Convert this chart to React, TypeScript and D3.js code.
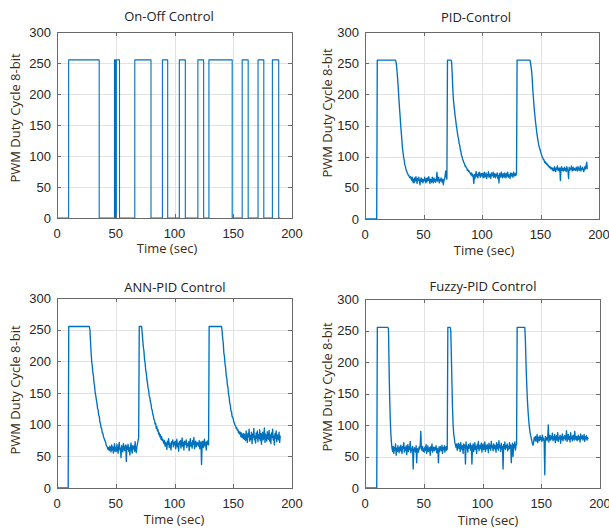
import React from "react";
import * as d3 from "d3";

// ---------- DATA ----------
const xTicks = [0, 50, 100, 150, 200];
const yTicks = [0, 50, 100, 150, 200, 250, 300];
const titles = ["On-Off Control", "PID-Control", "ANN-PID Control", "Fuzzy-PID Control"];
const xLabel = "Time (sec)";
const yLabel = "PWM Duty Cycle 8-bit";

// On-Off: switching instants (sec) and levels held after them
const onOffT = [0, 9.9, 35.9, 48.9, 49.6, 50.5, 53.2, 66.2, 80, 89.7, 94.2, 104.1, 109.2, 119.9, 124.8, 129.3, 149.1, 157.6, 162.7, 171.1, 176, 183.3, 188.7, 190];
const onOffV = [0, 255, 0, 255, 0, 255, 0, 255, 0, 255, 0, 255, 0, 255, 0, 255, 0, 255, 0, 255, 0, 255, 0, 0];

// Sampled series, one value every STEP seconds starting at t = 0
const STEP = 0.5;

const pidValues = [
  0,0,0,0,0,0,0,0,0,0,0,0,0,0,0,0,0,0,0,0,
  0,255,255,255,255,255,255,255,255,255,255,255,255,255,255,255,255,255,255,255,
  255,255,255,255,255,255,255,255,255,255,255,255,255,252,245,235,222,208,192,178,
  165,150,139,127,114,107,99,95,87,85,79,78,74,73,70,70,67,66,68,64,
  62,67,59,64,58,66,61,68,63,57,65,62,67,60,55,63,66,60,64,58,
  63,61,67,62,58,65,60,66,62,68,61,57,64,63,59,67,62,58,66,61,
  63,59,64,75,61,62,67,58,63,61,66,62,59,64,55,63,63,70,77,68,
  64,255,255,255,255,255,255,255,252,235,210,193,183,175,166,159,151,145,138,132,
  128,121,118,111,108,102,100,95,94,90,89,85,85,82,82,78,79,76,77,74,
  74,71,74,69,72,67,57,71,65,72,76,68,71,66,74,70,75,67,71,73,
  69,73,66,71,75,67,70,74,65,71,69,76,67,72,70,65,74,69,71,75,
  67,70,73,66,71,69,74,65,70,58,73,67,71,75,68,66,73,70,67,74,
  70,66,73,69,75,67,71,70,65,74,69,73,70,67,75,71,69,73,70,74,
  255,255,255,255,255,255,255,255,255,255,255,255,255,255,255,255,255,255,255,255,
  255,255,255,250,243,236,222,205,193,180,170,160,152,144,136,130,124,119,115,112,
  109,105,103,99,98,95,95,91,92,89,90,87,88,85,86,83,84,81,83,80,
  82,78,81,77,84,80,76,82,80,85,78,81,77,82,62,80,84,78,81,77,
  80,83,78,81,76,84,80,77,65,83,78,81,80,85,77,80,83,78,81,80,
  78,83,80,77,84,81,78,80,85,77,81,80,83,78,76,81,84,80,86,91,
  80,
];

const annValues = [
  10,0,0,0,0,0,0,0,0,0,0,0,0,0,0,0,0,0,0,0,
  255,255,255,255,255,255,255,255,255,255,255,255,255,255,255,255,255,255,255,255,
  255,255,255,255,255,255,255,255,255,255,255,255,255,255,255,255,250,232,215,200,
  193,182,177,166,161,150,146,139,134,126,123,115,113,104,102,95,94,87,87,81,
  79,76,74,71,67,66,63,61,64,59,66,62,57,68,60,65,55,63,70,58,
  64,58,69,61,55,66,72,60,63,48,67,62,57,70,65,59,64,68,42,66,
  61,69,58,64,52,63,71,60,55,67,62,66,58,73,61,56,65,70,75,79,
  255,255,255,255,255,245,233,222,216,203,197,186,181,171,166,158,154,145,143,136,
  133,125,123,116,114,108,107,101,102,94,97,90,92,85,87,81,84,77,81,75,
  77,73,70,75,66,72,68,61,74,69,78,64,71,67,60,73,70,76,65,72,
  68,74,62,71,77,65,70,58,73,69,75,63,70,79,66,72,60,74,68,71,
  76,64,70,67,73,59,72,78,66,71,63,75,69,80,62,70,74,65,72,68,
  71,66,75,62,70,73,37,68,74,64,71,77,66,72,60,73,69,75,68,255,
  255,255,255,255,255,255,255,255,255,255,255,255,255,255,255,255,255,255,255,255,
  255,248,236,229,213,208,196,190,178,173,163,159,148,144,134,131,122,121,113,112,
  109,104,103,99,98,94,95,91,92,87,89,85,88,81,87,80,85,78,86,77,
  84,75,90,79,72,86,81,93,74,83,77,88,70,85,80,94,76,82,71,87,
  79,90,73,84,78,92,75,86,69,83,88,76,81,95,72,85,79,74,89,80,
  77,91,74,84,70,87,80,93,76,82,68,86,79,90,73,84,81,76,88,72,
  83,
];

const fuzzyValues = [
  0,0,0,0,0,0,0,0,0,0,0,0,0,0,0,0,0,0,0,0,
  0,255,255,255,255,255,255,255,255,255,255,255,255,255,255,255,255,255,255,255,
  252,190,143,110,86,72,63,58,66,55,64,60,70,52,63,58,67,61,56,65,
  59,68,61,55,66,63,72,57,64,60,67,53,62,69,58,65,61,74,56,63,
  60,66,30,58,64,61,57,67,40,63,59,57,65,62,68,90,63,60,66,58,
  62,57,65,60,69,55,63,67,58,61,64,52,66,60,70,57,62,65,59,64,
  61,67,56,63,60,40,65,58,66,62,59,68,55,64,61,67,57,63,66,60,
  62,255,255,255,255,255,250,210,165,125,100,86,79,72,68,64,70,60,66,71,
  63,69,58,72,65,61,67,55,70,64,68,38,73,62,66,57,69,63,64,71,
  60,67,38,65,70,58,64,72,61,66,55,69,63,74,59,65,68,62,71,57,
  66,70,61,64,73,58,67,62,69,65,56,71,63,68,60,74,64,67,59,70,
  62,68,65,57,72,63,69,60,75,64,67,58,71,62,66,30,69,63,73,61,
  67,64,70,59,66,62,72,63,68,40,65,71,50,69,64,73,60,67,70,255,
  255,255,255,255,255,255,255,255,255,255,255,255,255,235,200,172,148,130,116,104,
  95,88,83,79,75,70,68,73,80,76,82,74,79,85,72,78,81,75,83,77,
  80,74,84,76,79,73,21,82,77,80,75,81,100,73,79,84,76,82,78,87,
  75,81,77,85,72,79,83,76,88,74,80,78,84,71,82,77,86,75,81,79,
  83,76,80,91,74,79,85,77,82,73,88,78,81,75,84,79,76,90,80,77,
  82,75,79,84,77,81,73,86,78,80,83,76,79,85,74,81,78,83,76,80,
  78,
];

// ---------- LAYOUT ----------
type Pt = [number, number];
const toPoints = (vals: number[]): Pt[] => vals.map((v, i) => [i * STEP, v]);
const onOffPoints: Pt[] = onOffT.map((t, i) => [t, onOffV[i]]);

const panels = [
  { title: titles[0], pts: onOffPoints, step: true, l: 57, r: 292, t: 32, b: 218, tx: 169, ty: 21, lx: 167, ly: 253, yx: 15, yy: 118 },
  { title: titles[1], pts: toPoints(pidValues), step: false, l: 365, r: 599, t: 32, b: 219, tx: 476, ty: 22, lx: 484, ly: 255, yx: 327, yy: 113 },
  { title: titles[2], pts: toPoints(annValues), step: false, l: 57, r: 292, t: 298, b: 488, tx: 175, ty: 292, lx: 174, ly: 524, yx: 15, yy: 390 },
  { title: titles[3], pts: toPoints(fuzzyValues), step: false, l: 365, r: 600, t: 299, b: 488, tx: 483, ty: 291, lx: 488, ly: 525, yx: 327, yy: 387 },
];

const LINE = "#0072BD";
const GRID = "#e2e2e2";
const AXIS = "#6a6a6a";
const TICKTXT = "#262626";
const LABEL = "#3d2b12";
const TICKFONT = "'Liberation Sans', Arial, sans-serif";
const TEXTFONT = "'Open Sans', 'Noto Sans', sans-serif";

function Panel({ p, idx }: { p: any; idx: number }) {
  const x = d3.scaleLinear().domain([0, 200]).range([p.l, p.r]);
  const y = d3.scaleLinear().domain([0, 300]).range([p.b, p.t]);
  const line = d3
    .line<Pt>()
    .x((d) => x(d[0]))
    .y((d) => y(d[1]))
    .curve(p.step ? d3.curveStepAfter : d3.curveLinear);
  const clipId = `clip${idx}`;
  const tl = 4;
  return (
    <g>
      <defs>
        <clipPath id={clipId}>
          <rect x={p.l} y={p.t - 1} width={p.r - p.l} height={p.b - p.t + 2} />
        </clipPath>
      </defs>
      {xTicks.slice(1, -1).map((v) => (
        <line key={"gx" + v} x1={Math.round(x(v)) + 0.5} x2={Math.round(x(v)) + 0.5} y1={p.t} y2={p.b} stroke={GRID} strokeWidth={1} />
      ))}
      {yTicks.slice(1, -1).map((v) => (
        <line key={"gy" + v} x1={p.l} x2={p.r} y1={Math.round(y(v)) + 0.5} y2={Math.round(y(v)) + 0.5} stroke={GRID} strokeWidth={1} />
      ))}
      <path d={line(p.pts) || ""} fill="none" stroke={LINE} strokeWidth={p.step ? 1.1 : 1.35} clipPath={`url(#${clipId})`} strokeLinejoin="round" />
      <rect x={p.l + 0.5} y={p.t + 0.5} width={p.r - p.l} height={p.b - p.t} fill="none" stroke={AXIS} strokeWidth={1} />
      {xTicks.map((v) => (
        <g key={"tx" + v}>
          <line x1={Math.round(x(v)) + 0.5} x2={Math.round(x(v)) + 0.5} y1={p.b} y2={p.b - tl} stroke={AXIS} />
          <line x1={Math.round(x(v)) + 0.5} x2={Math.round(x(v)) + 0.5} y1={p.t} y2={p.t + tl} stroke={AXIS} />
          <text x={x(v)} y={p.b + 20} textAnchor="middle" fontFamily={TICKFONT} fontSize={13} fill={TICKTXT}>
            {v}
          </text>
        </g>
      ))}
      {yTicks.map((v) => (
        <g key={"ty" + v}>
          <line x1={p.l} x2={p.l + tl} y1={Math.round(y(v)) + 0.5} y2={Math.round(y(v)) + 0.5} stroke={AXIS} />
          <line x1={p.r} x2={p.r - tl} y1={Math.round(y(v)) + 0.5} y2={Math.round(y(v)) + 0.5} stroke={AXIS} />
          <text x={p.l - 6} y={y(v) + 4.5} textAnchor="end" fontFamily={TICKFONT} fontSize={13} fill={TICKTXT}>
            {v}
          </text>
        </g>
      ))}
      <text x={p.tx} y={p.ty} textAnchor="middle" fontFamily={TEXTFONT} fontSize={13} fill="#222">
        {p.title}
      </text>
      <text x={p.lx} y={p.ly} textAnchor="middle" fontFamily={TEXTFONT} fontSize={13} fill={LABEL}>
        {xLabel}
      </text>
      <text
        x={0}
        y={0}
        transform={`translate(${p.yx + 4.5},${p.yy}) rotate(-90)`}
        textAnchor="middle"
        fontFamily={TEXTFONT}
        fontSize={13}
        fill={LABEL}
      >
        {yLabel}
      </text>
    </g>
  );
}

export default function App() {
  return (
    <svg width={609} height={528} style={{ position: "absolute", left: 0, top: 0, background: "#fff" }}>
      <rect width={609} height={528} fill="#fff" />
      {panels.map((p, i) => (
        <Panel key={i} p={p} idx={i} />
      ))}
    </svg>
  );
}
